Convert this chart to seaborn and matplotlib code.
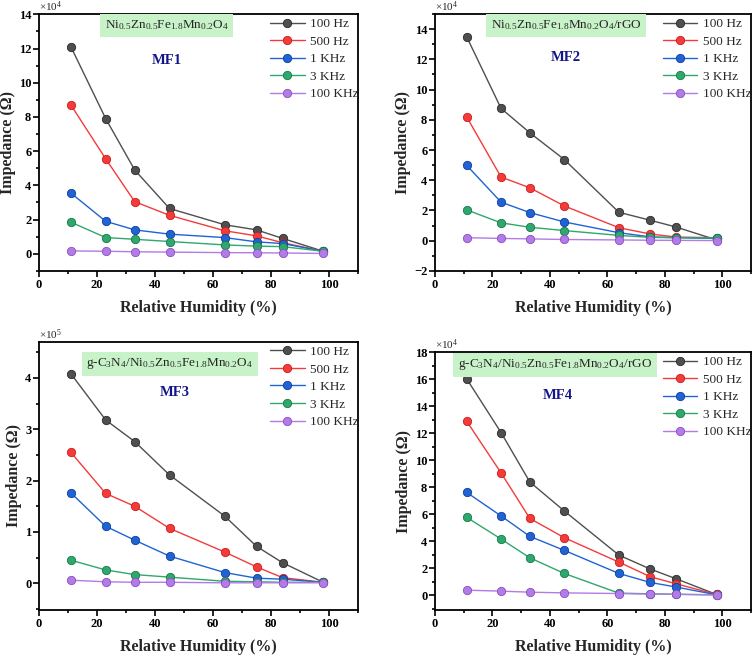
import matplotlib
matplotlib.use("Agg")
import matplotlib.pyplot as plt
import seaborn as sns
import pandas as pd
from matplotlib.ticker import MultipleLocator, AutoMinorLocator

sns.set_style("ticks")
plt.rcParams['font.family'] = ['Liberation Serif', 'DejaVu Serif']
plt.rcParams['mathtext.fontset'] = 'custom'
plt.rcParams['mathtext.rm'] = 'Liberation Serif'
plt.rcParams['mathtext.it'] = 'Liberation Serif:italic'
plt.rcParams['mathtext.bf'] = 'Liberation Serif:bold'

humidity = [11, 23, 33, 45, 64, 75, 84, 98]
freqs = ["100 Hz", "500 Hz", "1 KHz", "3 KHz", "100 KHz"]
colors = ["#4f4f4f", "#f53a3a", "#1f63d6", "#2ea86c", "#b27be6"]
edge_colors = ["#2a2a2a", "#c81e1e", "#0f3f9a", "#17794a", "#8a4fc4"]

# MF1 (x10^4 ohm)
mf1 = {
    "100 Hz": [12.1, 7.9, 4.9, 2.65, 1.7, 1.4, 0.9, 0.15],
    "500 Hz": [8.7, 5.55, 3.05, 2.25, 1.35, 1.05, 0.65, 0.15],
    "1 KHz": [3.55, 1.9, 1.4, 1.15, 0.95, 0.7, 0.6, 0.15],
    "3 KHz": [1.85, 0.95, 0.85, 0.72, 0.52, 0.45, 0.42, 0.15],
    "100 KHz": [0.17, 0.15, 0.12, 0.1, 0.07, 0.06, 0.05, 0.02],
}
# MF2 (x10^4 ohm)
mf2 = {
    "100 Hz": [13.5, 8.75, 7.14, 5.37, 1.88, 1.35, 0.9, 0.05],
    "500 Hz": [8.2, 4.21, 3.5, 2.3, 0.86, 0.44, 0.24, 0.2],
    "1 KHz": [4.99, 2.55, 1.86, 1.24, 0.53, 0.25, 0.2, 0.15],
    "3 KHz": [2.04, 1.18, 0.89, 0.67, 0.35, 0.22, 0.2, 0.18],
    "100 KHz": [0.2, 0.15, 0.12, 0.08, 0.05, 0.03, 0.02, 0.01],
}
# MF3 (x10^5 ohm)
mf3 = {
    "100 Hz": [4.08, 3.18, 2.76, 2.11, 1.31, 0.72, 0.40, 0.02],
    "500 Hz": [2.55, 1.75, 1.5, 1.07, 0.61, 0.32, 0.11, 0.02],
    "1 KHz": [1.76, 1.11, 0.84, 0.53, 0.21, 0.1, 0.08, 0.02],
    "3 KHz": [0.45, 0.26, 0.17, 0.12, 0.04, 0.03, 0.02, 0.02],
    "100 KHz": [0.06, 0.03, 0.02, 0.02, 0.01, 0.01, 0.01, 0.01],
}
# MF4 (x10^4 ohm)
mf4 = {
    "100 Hz": [16.04, 12.05, 8.39, 6.24, 2.97, 1.93, 1.21, 0.05],
    "500 Hz": [12.9, 9.06, 5.69, 4.26, 2.45, 1.36, 0.84, 0.05],
    "1 KHz": [7.62, 5.87, 4.36, 3.32, 1.61, 0.94, 0.6, 0.03],
    "3 KHz": [5.77, 4.16, 2.77, 1.61, 0.15, 0.1, 0.07, 0.02],
    "100 KHz": [0.37, 0.3, 0.22, 0.17, 0.12, 0.08, 0.06, 0.02],
}

panels = [
    dict(data=mf1, tag="MF1",
         formula=r"Ni$_{0.5}$Zn$_{0.5}$Fe$_{1.8}$Mn$_{0.2}$O$_4$",
         mult=r"$\times$10$^{4}$", ylim=(-1, 14.02), ymaj=2,
         rect=[0.0516, 0.587, 0.422, 0.3917], fpos=(0.40, 0.955), tpos=(0.40, 0.82)),
    dict(data=mf2, tag="MF2",
         formula=r"Ni$_{0.5}$Zn$_{0.5}$Fe$_{1.8}$Mn$_{0.2}$O$_4$/rGO",
         mult=r"$\times$10$^{4}$", ylim=(-2, 15), ymaj=2,
         rect=[0.5754, 0.587, 0.418, 0.3917], fpos=(0.415, 0.955), tpos=(0.415, 0.83)),
    dict(data=mf3, tag="MF3",
         formula=r"g-C$_3$N$_4$/Ni$_{0.5}$Zn$_{0.5}$Fe$_{1.8}$Mn$_{0.2}$O$_4$",
         mult=r"$\times$10$^{5}$", ylim=(-0.52, 4.7), ymaj=1,
         rect=[0.0516, 0.0701, 0.422, 0.4086], fpos=(0.41, 0.918), tpos=(0.426, 0.81)),
    dict(data=mf4, tag="MF4",
         formula=r"g-C$_3$N$_4$/Ni$_{0.5}$Zn$_{0.5}$Fe$_{1.8}$Mn$_{0.2}$O$_4$/rGO",
         mult=r"$\times$10$^{4}$", ylim=(-1.1, 18.02), ymaj=2,
         rect=[0.5754, 0.0701, 0.418, 0.3933], fpos=(0.38, 0.95), tpos=(0.39, 0.83)),
]

fig = plt.figure(figsize=(7.56, 6.56), dpi=100)

for p in panels:
    ax = fig.add_axes(p["rect"])
    for f, c, ec in zip(freqs, colors, edge_colors):
        df = pd.DataFrame({"RH": humidity, "Z": p["data"][f]})
        sns.lineplot(data=df, x="RH", y="Z", ax=ax, color=c, marker="o",
                     markersize=6, markeredgecolor=ec, markeredgewidth=0.6,
                     linewidth=1.0, label=f)
    ax.set_xlim(0, 110)
    ax.set_ylim(*p["ylim"])
    ax.xaxis.set_major_locator(MultipleLocator(20))
    ax.xaxis.set_minor_locator(MultipleLocator(10))
    ax.yaxis.set_major_locator(MultipleLocator(p["ymaj"]))
    ax.yaxis.set_minor_locator(AutoMinorLocator(2))
    ax.tick_params(which="both", direction="out", top=False, right=False,
                   labelsize=9, width=1.2, colors="black", pad=1.5)
    ax.tick_params(which="major", length=4)
    ax.tick_params(which="minor", length=2)
    for lab in ax.get_xticklabels() + ax.get_yticklabels():
        lab.set_fontweight("bold")
    for s in ax.spines.values():
        s.set_linewidth(1.3)
        s.set_color("black")
    ax.set_xlabel("Relative Humidity (%)", fontsize=11.5, fontweight="bold", labelpad=7)
    ax.set_ylabel("Impedance (\u03a9)", fontsize=11.5, fontweight="bold", labelpad=2)
    ax.annotate(p["mult"], xy=(0.0, 1.0), xycoords="axes fraction",
                xytext=(0, 5), textcoords="offset points", fontsize=8,
                ha="left", va="center")
    ax.text(p["fpos"][0], p["fpos"][1], p["formula"], transform=ax.transAxes,
            fontsize=9.5, ha="center", va="center",
            bbox=dict(boxstyle="square,pad=0.35", facecolor="#c8f2c8", edgecolor="none"))
    ax.text(p["tpos"][0], p["tpos"][1], p["tag"], transform=ax.transAxes,
            fontsize=10.5, fontweight="bold", color="#15158a", ha="center", va="center")
    leg = ax.legend(loc="upper right", bbox_to_anchor=(1.03, 1.02), frameon=False,
                    fontsize=9.5, handlelength=2.6, labelspacing=0.4,
                    handletextpad=0.4, borderaxespad=0.3)

fig.savefig("out.png", dpi=100)
